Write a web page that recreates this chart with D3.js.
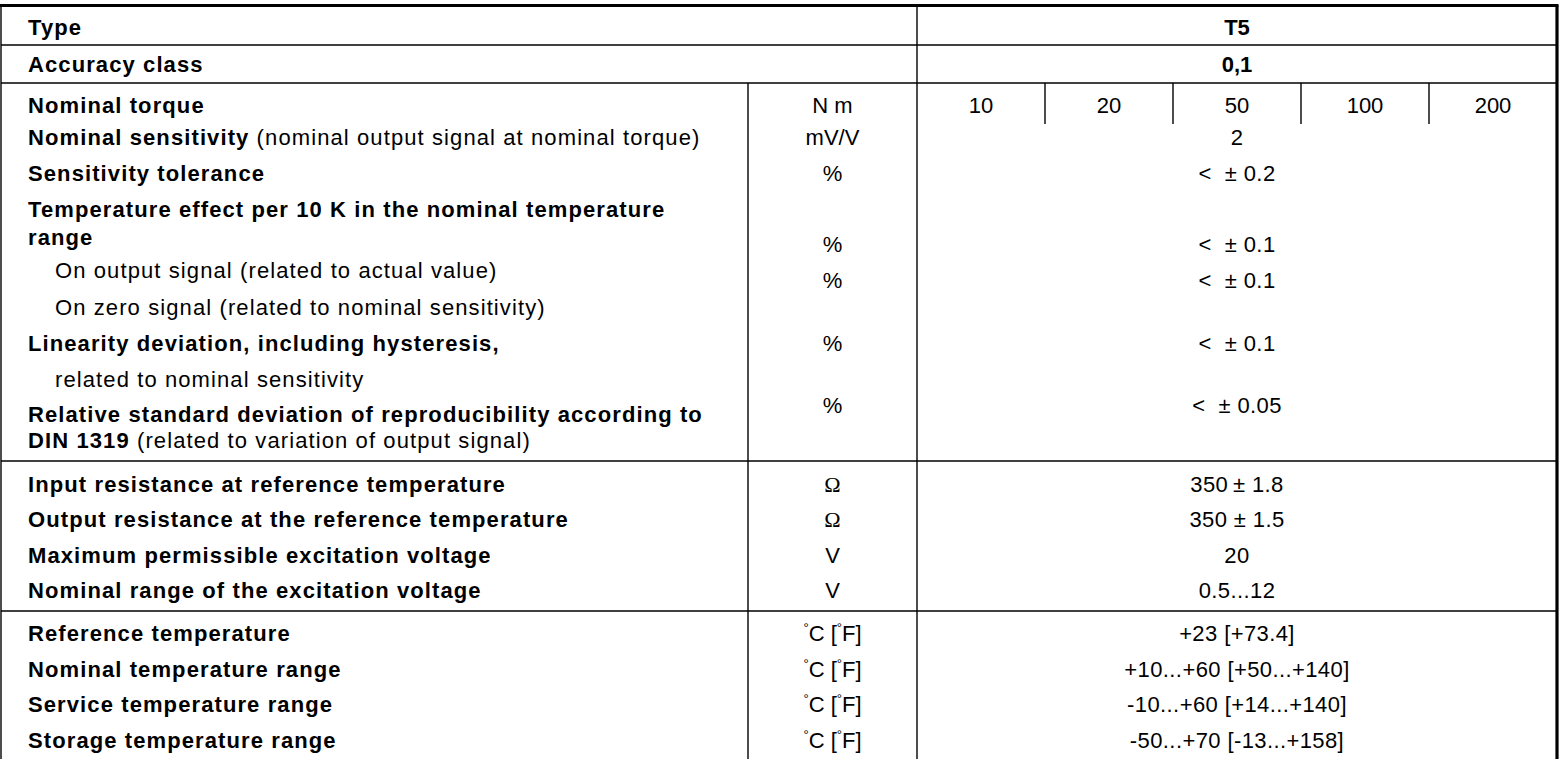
<!DOCTYPE html>
<html>
<head>
<meta charset="utf-8">
<script src="https://cdn.jsdelivr.net/npm/d3@7"></script>
<style>
  html, body { margin: 0; padding: 0; background: #fff; }
  svg text { font-family: "Liberation Sans", Arial, Helvetica, sans-serif; font-size: 22px; fill: #000; }
  .b { font-weight: bold; }
  .label { letter-spacing: 1.1px; }
  .val { letter-spacing: 0.4px; }
  .omega { font-family: "Liberation Serif", "Times New Roman", serif; }
</style>
</head>
<body>
<svg id="chart" width="1567" height="759"></svg>
<script>
// table content
var typeName     = "T5";
var accuracy     = "0,1";
var torqueValues = ["10", "20", "50", "100", "200"];

var labelBold = [
    "Type", "Accuracy class", "Nominal torque", "Nominal sensitivity", "Sensitivity tolerance",
    "Temperature effect per 10 K in the nominal temperature", "range",
    "", "", "Linearity deviation, including hysteresis,", "",
    "Relative standard deviation of reproducibility according to", "DIN 1319",
    "Input resistance at reference temperature", "Output resistance at the reference temperature",
    "Maximum permissible excitation voltage", "Nominal range of the excitation voltage",
    "Reference temperature", "Nominal temperature range", "Service temperature range",
    "Storage temperature range"
];
var labelPlain = [
    "", "", "", " (nominal output signal at nominal torque)", "",
    "", "",
    "On output signal (related to actual value)", "On zero signal (related to nominal sensitivity)", "", "related to nominal sensitivity",
    "", " (related to variation of output signal)",
    "", "", "", "",
    "", "", "", ""
];

var units  = ["N m", "mV/V", "%", "%", "%", "%", "%", "\u03A9", "\u03A9", "V", "V",
              "°C [°F]", "°C [°F]", "°C [°F]", "°C [°F]"];
var values = [null, "2", "<  \u00B1 0.2", "<  \u00B1 0.1", "<  \u00B1 0.1", "<  \u00B1 0.1", "<  \u00B1 0.05",
              "350\u2009\u00B1 1.8", "350 \u00B1 1.5", "20", "0.5...12",
              "+23 [+73.4]", "+10...+60 [+50...+140]", "-10...+60 [+14...+140]", "-50...+70 [-13...+158]"];

// layout
var labelY  = [27, 64, 105, 137, 173, 209, 237, 270, 307, 343, 379, 414, 440,
               484, 519, 555, 590, 633, 669, 704, 740];
var valueY  = [105, 137, 173, 244, 280, 343, 405, 484, 519, 555, 590, 633, 669, 704, 740];
var rules   = [45, 83, 461, 611];

var svg = d3.select("#chart");
var xLeft = 1, xRight = 1557, yTop = 5.5, yBottom = 759;
var unitX0 = 748, valX0 = 917;
var mid = 7.9; // half cap height, centre -> baseline

var x = d3.scaleBand().domain(torqueValues).range([valX0, xRight]);

// lines
var g = svg.append("g").attr("stroke", "#000").attr("fill", "none");
g.selectAll("line.rule")
  .data(rules)
  .enter().append("line")
    .attr("x1", xLeft).attr("x2", xRight)
    .attr("y1", function (d) { return d; })
    .attr("y2", function (d) { return d; })
    .attr("stroke-width", 1.4);

g.append("line").attr("x1", valX0).attr("x2", valX0).attr("y1", yTop).attr("y2", yBottom).attr("stroke-width", 1.4);
g.append("line").attr("x1", unitX0).attr("x2", unitX0).attr("y1", 83).attr("y2", yBottom).attr("stroke-width", 1.4);
g.append("line").attr("x1", xLeft).attr("x2", xLeft).attr("y1", yTop).attr("y2", yBottom).attr("stroke-width", 1.4);

g.selectAll("line.div")
  .data(torqueValues.slice(1))
  .enter().append("line")
    .attr("x1", function (d) { return x(d); })
    .attr("x2", function (d) { return x(d); })
    .attr("y1", 83).attr("y2", 124)
    .attr("stroke-width", 1.4);

g.append("line").attr("x1", 0).attr("x2", xRight + 1.5).attr("y1", yTop).attr("y2", yTop).attr("stroke-width", 3.2);
g.append("line").attr("x1", xRight).attr("x2", xRight).attr("y1", yTop).attr("y2", yBottom).attr("stroke-width", 3.2);

// labels
var lab = svg.append("g");
var t = lab.selectAll("text.label")
  .data(labelBold.map(function (b, i) { return { bold: b, plain: labelPlain[i], y: labelY[i] }; }))
  .enter().append("text")
    .attr("class", "label")
    .attr("x", function (d) { return d.bold ? 28 : 55; })
    .attr("y", function (d) { return d.y + mid; })
    .attr("xml:space", "preserve")
    .style("white-space", "pre");
t.append("tspan").attr("class", "b").text(function (d) { return d.bold; });
t.append("tspan").text(function (d) { return d.plain; });

// header values
lab.append("text").attr("class", "b").attr("x", (valX0 + xRight) / 2).attr("y", 27 + mid)
   .attr("text-anchor", "middle").text(typeName);
lab.append("text").attr("class", "b").attr("x", (valX0 + xRight) / 2).attr("y", 64 + mid)
   .attr("text-anchor", "middle").text(accuracy);

// units
var u = lab.selectAll("text.unit")
  .data(units.map(function (d, i) { return { u: d, y: valueY[i] }; }))
  .enter().append("text")
    .attr("class", function (d) { return d.u == "\u03A9" ? "unit omega" : "unit"; })
    .attr("x", (unitX0 + valX0) / 2)
    .attr("y", function (d) { return d.y + mid; })
    .attr("text-anchor", "middle");
u.each(function (d) {
    var el = d3.select(this);
    if (d.u.indexOf("°") < 0) { el.text(d.u); return; }
    var parts = d.u.split("°");   // ["", "C [", "F]"]
    for (var i = 1; i < parts.length; i++) {
        el.append("tspan").attr("font-size", 13).attr("dy", -9).text("°");
        el.append("tspan").attr("dy", 9).text(parts[i]);
    }
});

// values
lab.selectAll("text.val")
  .data(values.map(function (d, i) { return { v: d, y: valueY[i] }; }).filter(function (d) { return d.v; }))
  .enter().append("text")
    .attr("class", "val")
    .attr("x", (valX0 + xRight) / 2)
    .attr("y", function (d) { return d.y + mid; })
    .attr("text-anchor", "middle")
    .attr("xml:space", "preserve")
    .style("white-space", "pre")
    .text(function (d) { return d.v; });

lab.selectAll("text.torque")
  .data(torqueValues)
  .enter().append("text")
    .attr("class", "torque")
    .attr("x", function (d) { return x(d) + x.bandwidth() / 2; })
    .attr("y", valueY[0] + mid)
    .attr("text-anchor", "middle")
    .text(function (d) { return d; });
</script>
</body>
</html>
